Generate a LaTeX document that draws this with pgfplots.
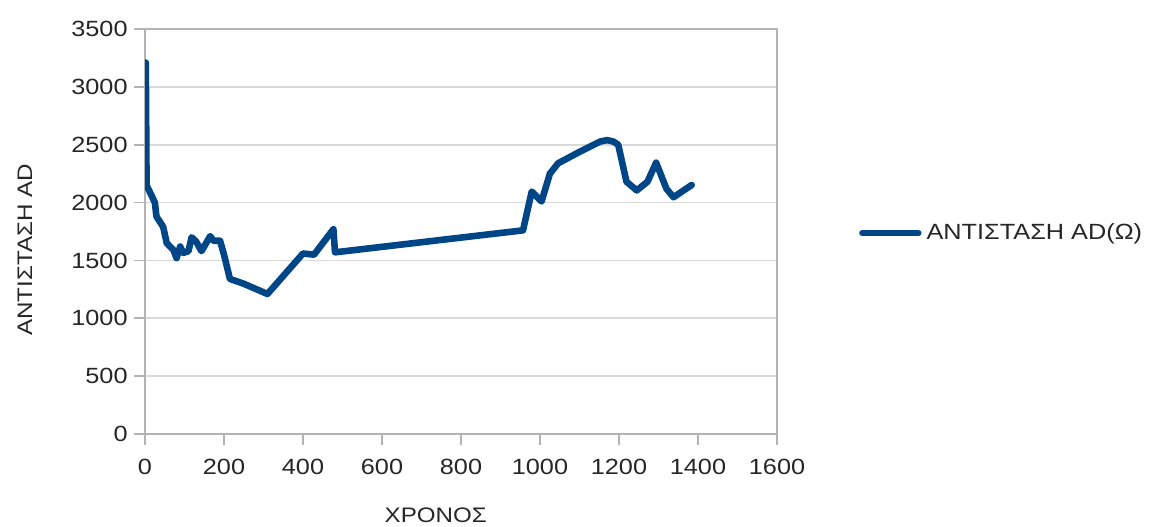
\documentclass[border=0pt]{standalone}
\usepackage{fontspec}
\setmainfont{Liberation Sans}[FakeStretch=1.15]
\usepackage{pgfplots}
\pgfplotsset{compat=1.18}

\definecolor{seriesblue}{HTML}{004586}
\definecolor{gridgray}{HTML}{D9D9D9}
\definecolor{axisgray}{HTML}{B3B3B3}
\definecolor{textgray}{HTML}{262626}

\begin{document}
\begin{tikzpicture}
\useasboundingbox (0,0) rectangle (577.5pt,263pt);
\begin{axis}[
  at={(72.5pt,46pt)}, anchor=south west,
  scale only axis, width=316pt, height=202.5pt,
  xmin=0, xmax=1600, ymin=0, ymax=3500,
  xtick={0,200,...,1600}, ytick={0,500,...,3500},
  ymajorgrids, major grid style={gridgray, line width=0.8pt},
  axis line style={axisgray, line width=0.8pt},
  tick style={axisgray, line width=0.8pt},
  tick align=outside, major tick length=5.5pt,
  xtick pos=bottom, ytick pos=left,
  /pgf/number format/assume math mode=true,
  /pgf/number format/1000 sep={},
  tick label style={font=\fontsize{11}{13}\selectfont, text=textgray},
  xticklabel style={anchor=center, inner sep=0pt, yshift=-11pt},
  yticklabel style={anchor=east, inner sep=0pt, xshift=-3pt},
  xlabel={ΧΡΟΝΟΣ},
  ylabel={ΑΝΤΙΣΤΑΣΗ AD},
  label style={font=\fontsize{10.5}{12}\selectfont, text=textgray},
  xlabel style={at={(axis description cs:0.46,-0.2)}, anchor=center},
  ylabel style={at={(axis description cs:-0.19,0.455)}, anchor=center},
  legend style={draw=none, fill=none, at={(axis description cs:1.13,0.496)},
    anchor=west, inner sep=0pt, outer sep=0pt,
    font=\fontsize{11}{13}\selectfont, text=textgray,
    nodes={inner sep=2.5pt}},
  legend cell align=left,
  legend image code/.code={\draw[seriesblue, line width=3.2pt] (0pt,0pt) -- (28pt,0pt);},
]
\addplot[seriesblue, line width=3.3pt, line join=round, line cap=round] coordinates {
  (0,2350) (2,3210) (4,2150) (25,2000) (29,1880) (46,1790) (55,1650)
  (72,1590) (80,1520) (89,1620) (97,1565) (110,1580) (118,1700)
  (130,1660) (143,1580) (165,1710) (173,1670) (190,1670) (200,1550)
  (215,1340) (249,1300) (310,1210) (400,1560) (428,1550) (477,1770)
  (481,1570) (957,1760) (979,2095) (1004,2010) (1025,2250) (1046,2340)
  (1101,2440) (1152,2527) (1170,2540) (1186,2527) (1198,2500) (1219,2180)
  (1245,2105) (1272,2180) (1294,2345) (1320,2120) (1338,2046) (1384,2152)
};
\addlegendentry{ΑΝΤΙΣΤΑΣΗ AD(Ω)}
\end{axis}
\end{tikzpicture}
\end{document}
